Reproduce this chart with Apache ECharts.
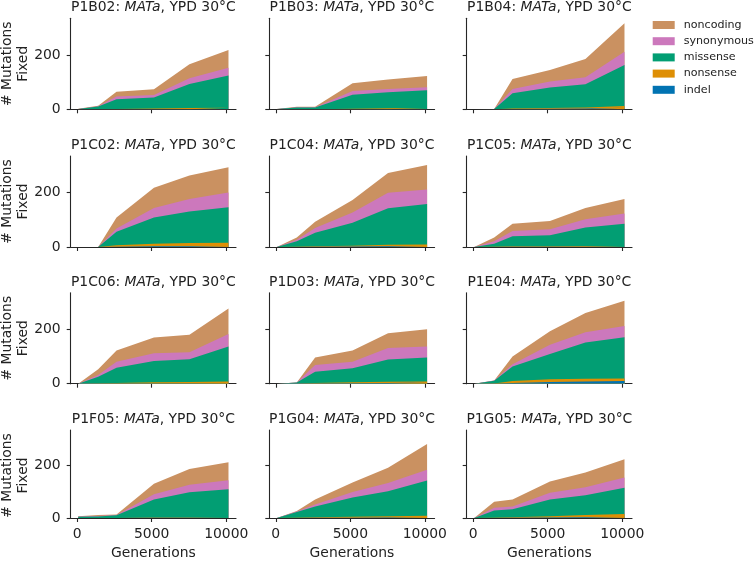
<!DOCTYPE html>
<html>
<head>
<meta charset="utf-8">
<script src="https://cdn.jsdelivr.net/npm/echarts@6/dist/echarts.min.js"></script>
<style>html,body{margin:0;padding:0;background:#fff}#c{width:754px;height:561px}</style>
</head>
<body>
<div id="c"></div>
<script>
// Generations sampled
const generations = [70, 1410, 2640, 5150, 7530, 10150];
const panelNames = ['P1B02','P1B03','P1B04','P1C02','P1C04','P1C05','P1C06','P1D03','P1E04','P1F05','P1G04','P1G05'];
// Per-category counts (not cumulative), one row per panel in panelNames order
const indel = [
  [0,0,0,1,1,1],[0,0,0,0,1,1],[0,0,1,2,3,6],
  [0,0,1,3,3,4],[0,0,1,2,3,4],[0,0,1,1,1,1],
  [0,0,1,1,1,2],[0,0,1,2,3,4],[0,0,3,6,8,10],
  [0,0,0,1,1,1],[0,0,1,1,2,3],[0,0,1,2,3,4]
];
const nonsense = [
  [0,0,1,2,4,5],[0,0,0,2,3,4],[0,0,2,3,4,6],
  [0,0,5,9,12,12],[0,1,2,3,5,5],[0,1,2,2,3,3],
  [0,1,2,4,5,6],[0,0,2,3,4,4],[0,1,7,10,10,9],
  [0,0,0,1,1,2],[0,1,2,4,5,6],[0,1,2,5,8,11]
];
const missense = [
  [1,10,36,40,88,118],[1,7,7,52,59,65],[0,1,56,75,85,151],
  [0,0,50,97,116,130],[0,20,49,84,135,149],[0,11,37,40,68,82],
  [0,25,56,79,84,129],[0,4,41,52,82,88],[0,10,53,93,134,152],
  [5,6,10,68,96,106],[0,22,41,73,95,134],[0,28,30,63,76,100]
];
const synonymous = [
  [0,1,10,10,21,29],[0,1,1,13,12,11],[0,0,16,22,26,49],
  [0,0,12,35,46,55],[0,6,18,38,57,54],[0,9,19,22,30,37],
  [0,6,22,28,26,46],[0,0,25,24,42,41],[0,1,9,34,37,41],
  [1,2,1,20,29,35],[0,2,7,21,31,41],[0,10,11,26,30,39]
];
const noncoding = [
  [1,2,18,21,52,65],[0,1,1,29,35,42],[0,0,37,43,67,105],
  [0,0,41,74,86,93],[0,8,23,46,72,90],[0,14,27,31,42,54],
  [0,21,41,58,64,94],[0,0,27,41,55,63],[0,0,28,50,71,93],
  [1,3,2,40,60,68],[0,2,19,36,58,98],[0,23,26,43,56,70]
];
const xTicks = [0, 5000, 10000];
const yTicks = [0, 200];

// stacking order bottom -> top
const categories = [
  {name:'indel', data: indel, color:'#0173b2'},
  {name:'nonsense', data: nonsense, color:'#de8f05'},
  {name:'missense', data: missense, color:'#029e73'},
  {name:'synonymous', data: synonymous, color:'#cc78bc'},
  {name:'noncoding', data: noncoding, color:'#ca9161'}
];

const FONT = 'DejaVu Sans';
const TXT = '#222';
const AX = '#262626';
const colLeft = [70.7, 269.3, 466.7];
const rowTop = [18.3, 156, 292.7, 430];
const W = 165.3, H = 91;

const grids = [], xAxes = [], yAxes = [], series = [], titles = [], graphics = [];
panelNames.forEach((pn, i) => {
  const r = Math.floor(i / 3), c = i % 3;
  grids.push({left: colLeft[c], top: rowTop[r], width: W, height: H});
  const bottomRow = r === 3, firstCol = c === 0;
  xAxes.push({
    type:'value', gridIndex:i, min:-434, max:10654,
    splitLine:{show:false},
    axisLine:{show:true, onZero:false, lineStyle:{color:AX, width:1.1}},
    axisTick:{show:true, inside:false, length:4, customValues:xTicks, lineStyle:{color:AX, width:1.1}},
    axisLabel:{show:bottomRow, customValues:xTicks, margin:9, formatter: v => String(v),
      fontFamily:FONT, fontSize:13.9, color:TXT},
    name: bottomRow ? 'Generations' : '', nameLocation:'middle', nameGap:28,
    nameTextStyle:{fontFamily:FONT, fontSize:13.9, color:TXT}
  });
  yAxes.push({
    type:'value', gridIndex:i, min:0, max:335,
    splitLine:{show:false},
    axisLine:{show:true, onZero:false, lineStyle:{color:AX, width:1.1}},
    axisTick:{show:true, inside:false, length:4, customValues:yTicks, lineStyle:{color:AX, width:1.1}},
    axisLabel:{show:firstCol, customValues:yTicks, margin:10, formatter: v => String(v),
      fontFamily:FONT, fontSize:13.9, color:TXT}
  });
  // cumulative tops for each layer
  const cum = [];
  let run = generations.map(() => 0);
  categories.forEach(cat => {
    run = run.map((v, k) => v + cat.data[i][k]);
    cum.push(run.slice());
  });
  // draw top layer first, lower layers over it (each filled down to 0)
  for (let j = categories.length - 1; j >= 0; j--) {
    const cat = categories[j];
    series.push({
      name: cat.name, type:'line', xAxisIndex:i, yAxisIndex:i,
      symbol:'none', silent:true, animation:false, z: 2 + (categories.length - j) * 0.01,
      lineStyle:{width:0, opacity:0},
      areaStyle:{color:cat.color, opacity:1, origin:'start'},
      itemStyle:{color:cat.color},
      data: generations.map((g, k) => [g, cum[j][k]])
    });
  }
  titles.push({
    text: pn + ': {i|MATa}, YPD 30°C',
    left: colLeft[c] + W/2, top: rowTop[r] - 3.5,
    textAlign:'center', textVerticalAlign:'bottom', padding:0,
    textStyle:{fontFamily:FONT, fontSize:13.9, fontWeight:'normal', color:TXT,
      rich:{i:{fontFamily:FONT, fontSize:13.9, fontStyle:'italic', color:TXT}}}
  });
  if (firstCol) {
    graphics.push({
      type:'text', x:15.5, y:rowTop[r] + H/2, rotation:Math.PI/2,
      style:{text:'# Mutations\nFixed', font:'13.9px "DejaVu Sans"', fill:TXT,
        align:'center', verticalAlign:'middle', lineHeight:16}
    });
  }
});

const chart = echarts.init(document.getElementById('c'), null, {renderer:'canvas'});
chart.setOption({
  animation:false,
  backgroundColor:'#fff',
  title: titles,
  grid: grids, xAxis: xAxes, yAxis: yAxes, series: series,
  graphic: graphics,
  legend:{
    data:['noncoding','synonymous','missense','nonsense','indel'],
    orient:'vertical', left:652.7, top:19.5, padding:0,
    itemWidth:22, itemHeight:8, itemGap:5.2, icon:'rect',
    textStyle:{fontFamily:FONT, fontSize:11.1, color:TXT, padding:[0,0,0,4]}
  }
});
</script>
</body>
</html>
